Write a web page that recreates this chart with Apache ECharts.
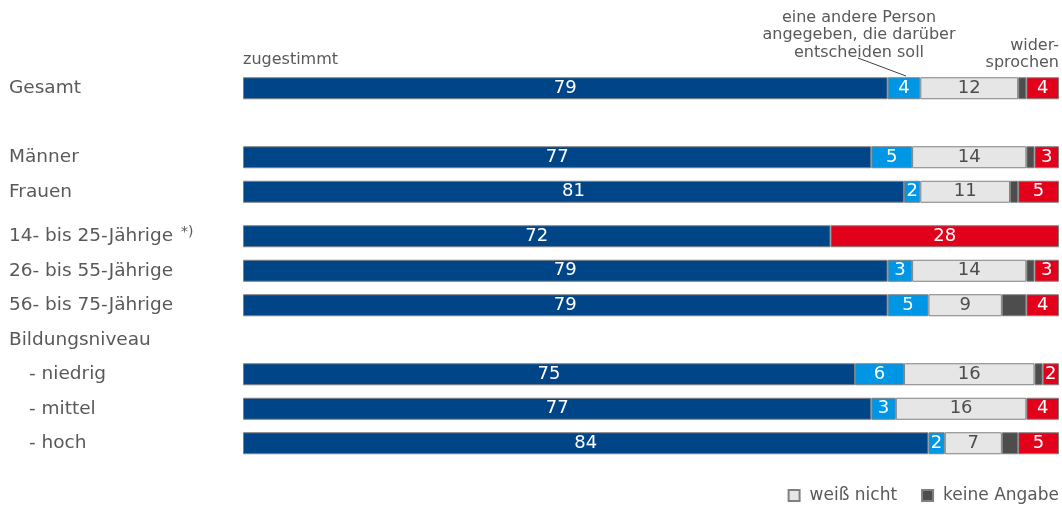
<!DOCTYPE html>
<html><head><meta charset="utf-8">
<script src="https://cdn.jsdelivr.net/npm/echarts@6/dist/echarts.min.js"></script>
<style>html,body{margin:0;padding:0;background:#fff}#c{width:1062px;height:508px}</style>
</head><body><div id="c"></div>
<script>
// Data
var categoriesA = ['Gesamt', '', 'Männer', 'Frauen'];
var zugestimmtA = [79, null, 77, 81];
var andereA = [4, null, 5, 2];
var weissNichtA = [12, null, 14, 11];
var keineAngabeA = [1, null, 1, 1];
var widersprochenA = [4, null, 3, 5];

var categoriesB = ['14- bis 25-Jährige *⁾', '26- bis 55-Jährige', '56- bis 75-Jährige', 'Bildungsniveau', '- niedrig', '- mittel', '- hoch'];
var zugestimmtB = [72, 79, 79, null, 75, 77, 84];
var andereB = [0, 3, 5, null, 6, 3, 2];
var weissNichtB = [0, 14, 9, null, 16, 16, 7];
var keineAngabeB = [0, 1, 3, null, 1, 0, 2];
var widersprochenB = [28, 3, 4, null, 2, 4, 5];

var seriesNames = ['zugestimmt', 'eine andere Person angegeben', 'weiß nicht', 'keine Angabe', 'widersprochen'];
var colors = ['#004587', '#0096e6', '#e6e6e6', '#4d4d4d', '#e2001a'];
var labelColors = ['#ffffff', '#ffffff', '#4d4d4d', null, '#ffffff'];

var FONT = '"DejaVu Sans", Verdana, sans-serif';
var TXT = '#595959';

function clean(arr) { return arr.map(function (v) { return v === 0 ? null : v; }); }

function makeSeries(dataSets, gi) {
  return dataSets.map(function (d, i) {
    return {
      name: seriesNames[i],
      type: 'bar',
      stack: 'g' + gi,
      xAxisIndex: gi, yAxisIndex: gi,
      barWidth: 22,
      data: clean(d),
      itemStyle: { color: colors[i], borderColor: '#808080', borderWidth: 1 },
      label: {
        show: labelColors[i] !== null,
        position: 'inside',
        color: labelColors[i] || '#fff',
        fontFamily: FONT, fontSize: 18,
        formatter: function (p) { return p.value == null ? '' : String(p.value); }
      },
      emphasis: { disabled: true },
      animation: false
    };
  });
}

function labelFmt(v) {
  if (v.indexOf('*⁾') >= 0) return v.replace(' *⁾', '') + ' {sup|*)}';
  if (v.indexOf('- ') === 0) return '{ind|' + v + '}';
  return v;
}

var yAxisCommon = function (cats, gi) {
  return {
    type: 'category', gridIndex: gi, data: cats, inverse: true,
    axisLine: { show: false }, axisTick: { show: false }, splitLine: { show: false },
    axisLabel: {
      align: 'left', margin: 234, color: TXT, fontFamily: FONT, fontSize: 18.5,
      formatter: labelFmt,
      rich: {
        sup: { fontSize: 14, color: TXT, fontFamily: FONT, padding: [0, 0, 8, 2] },
        ind: { fontSize: 18.5, color: TXT, fontFamily: FONT, padding: [0, 0, 0, 20] }
      }
    }
  };
};

var xAxisCommon = function (gi) {
  return { type: 'value', gridIndex: gi, min: 0, max: 100, show: false };
};

var chart = echarts.init(document.getElementById('c'), null, { renderer: 'canvas' });
chart.setOption({
  animation: false,
  textStyle: { fontFamily: FONT },
  grid: [
    { left: 243, right: 3, top: 71, height: 138 },
    { left: 243, right: 3, top: 219, height: 241.5 }
  ],
  xAxis: [xAxisCommon(0), xAxisCommon(1)],
  yAxis: [yAxisCommon(categoriesA, 0), yAxisCommon(categoriesB, 1)],
  legend: {
    data: ['weiß nicht', 'keine Angabe'],
    right: 3, bottom: 4, padding: 0,
    icon: 'rect', itemWidth: 11, itemHeight: 11, itemGap: 24,
    textStyle: { color: TXT, fontFamily: FONT, fontSize: 17, padding: [0, 0, 0, 5] },
    selectedMode: false
  },
  series: makeSeries([zugestimmtA, andereA, weissNichtA, keineAngabeA, widersprochenA], 0)
    .concat(makeSeries([zugestimmtB, andereB, weissNichtB, keineAngabeB, widersprochenB], 1)),
  graphic: [
    { type: 'text', left: 243, top: 52, style: { text: 'zugestimmt', fill: TXT, font: '16px ' + FONT } },
    { type: 'text', x: 859, y: 9, style: { text: 'eine andere Person\nangegeben, die darüber\nentscheiden soll', fill: TXT, font: '16px ' + FONT, align: 'center', lineHeight: 17.5 } },
    { type: 'line', shape: { x1: 858, y1: 58, x2: 906, y2: 76 }, style: { stroke: '#404040', lineWidth: 1 } },
    { type: 'text', x: 1059, y: 37, style: { text: 'wider-\nsprochen', fill: TXT, font: '16px ' + FONT, align: 'right', lineHeight: 17.5 } }
  ]
});
</script></body></html>
